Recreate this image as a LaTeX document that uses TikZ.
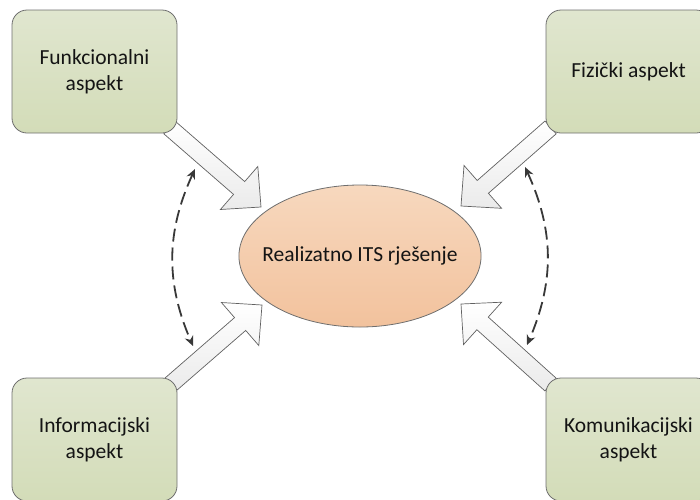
\documentclass[tikz,border=0pt]{standalone}
\usepackage{fontspec}
\setmainfont{Carlito}
\usetikzlibrary{calc,arrows.meta,shapes.geometric}
\pgfdeclarelayer{back}
\pgfdeclarelayer{mid}
\pgfsetlayers{back,mid,main}
\definecolor{boxtop}{HTML}{E0E6CF}
\definecolor{boxbot}{HTML}{D3DCB8}
\definecolor{elltop}{HTML}{F7D8BE}
\definecolor{ellbot}{HTML}{F2C29D}
\definecolor{edgegray}{HTML}{6E6E6E}
\newcommand\blockarr[2]{%
  \coordinate (ba-c) at ($(#2)!29pt!(#1)$);
  \draw[blockarrow]
    ($(#1)!8.5pt!90:(#2)$) -- ($(ba-c)!8.5pt!-90:(#1)$) --
    ($(ba-c)!28.5pt!-90:(#1)$) -- (#2) --
    ($(ba-c)!28.5pt!90:(#1)$) -- ($(ba-c)!8.5pt!90:(#1)$) --
    ($(#1)!8.5pt!-90:(#2)$) -- cycle;
}
\begin{document}
\begin{tikzpicture}[x=1pt,y=-1pt,
  aspect/.style={draw=edgegray, line width=0.8pt, rounded corners=15pt,
    top color=boxtop, bottom color=boxbot, minimum width=165pt,
    minimum height=123pt, align=center, inner sep=0pt,
    font=\fontsize{21.5}{26}\selectfont, text=black!92},
  result/.style={ellipse, draw=edgegray, line width=0.8pt,
    top color=elltop, bottom color=ellbot, minimum height=142pt,
    inner xsep=-12pt, inner ysep=0pt,
    font=\fontsize{21.5}{26}\selectfont, text=black!92},
  blockarrow/.style={draw=black!62, line width=0.7pt, top color=white, bottom color=black!8},
  link/.style={draw=black!78, line width=1.8pt, dash pattern=on 13pt off 6pt,
    {Stealth[length=10pt,width=9pt]}-{Stealth[length=10pt,width=9pt]}}
]
\useasboundingbox (0,0) rectangle (700,499);
\clip (0,0) rectangle (700,499);
\begin{pgfonlayer}{back}
\node[result] (re) at (360,256) {Realizatno ITS rješenje};
\end{pgfonlayer}
\node[aspect] (fa) at (94.5,71.5) {Funkcionalni\\aspekt};
\node[aspect] (fi) at (628.5,71.5) {Fizički aspekt};
\node[aspect] (in) at (94.5,439.5) {Informacijski\\aspekt};
\node[aspect] (ko) at (628.5,439.5) {Komunikacijski\\aspekt};
\coordinate (t1) at ($(fa.south east)+(-8,-6)$);
\coordinate (t2) at ($(fi.south west)+(5,-6)$);
\coordinate (t3) at ($(in.north east)+(-7,7)$);
\coordinate (t4) at ($(ko.north west)+(5,7)$);
\coordinate (p1) at ($(re.center)+(-99,-49)$);
\coordinate (p2) at ($(re.center)+(101,-50)$);
\coordinate (p3) at ($(re.center)+(-98,49)$);
\coordinate (p4) at ($(re.center)+(101,48)$);
\begin{pgfonlayer}{mid}
\blockarr{t1}{p1}
\blockarr{t2}{p2}
\blockarr{t3}{p3}
\blockarr{t4}{p4}
\end{pgfonlayer}
\coordinate (l1) at ($(re.center)+(-165,-87)$);
\coordinate (l2) at ($(re.center)+(-167,90)$);
\coordinate (r1) at ($(re.center)+(165,-89)$);
\coordinate (r2) at ($(re.center)+(167,89)$);
\draw[link] (l1) to[bend right=24] (l2);
\draw[link] (r1) to[bend left=24] (r2);
\end{tikzpicture}
\end{document}
